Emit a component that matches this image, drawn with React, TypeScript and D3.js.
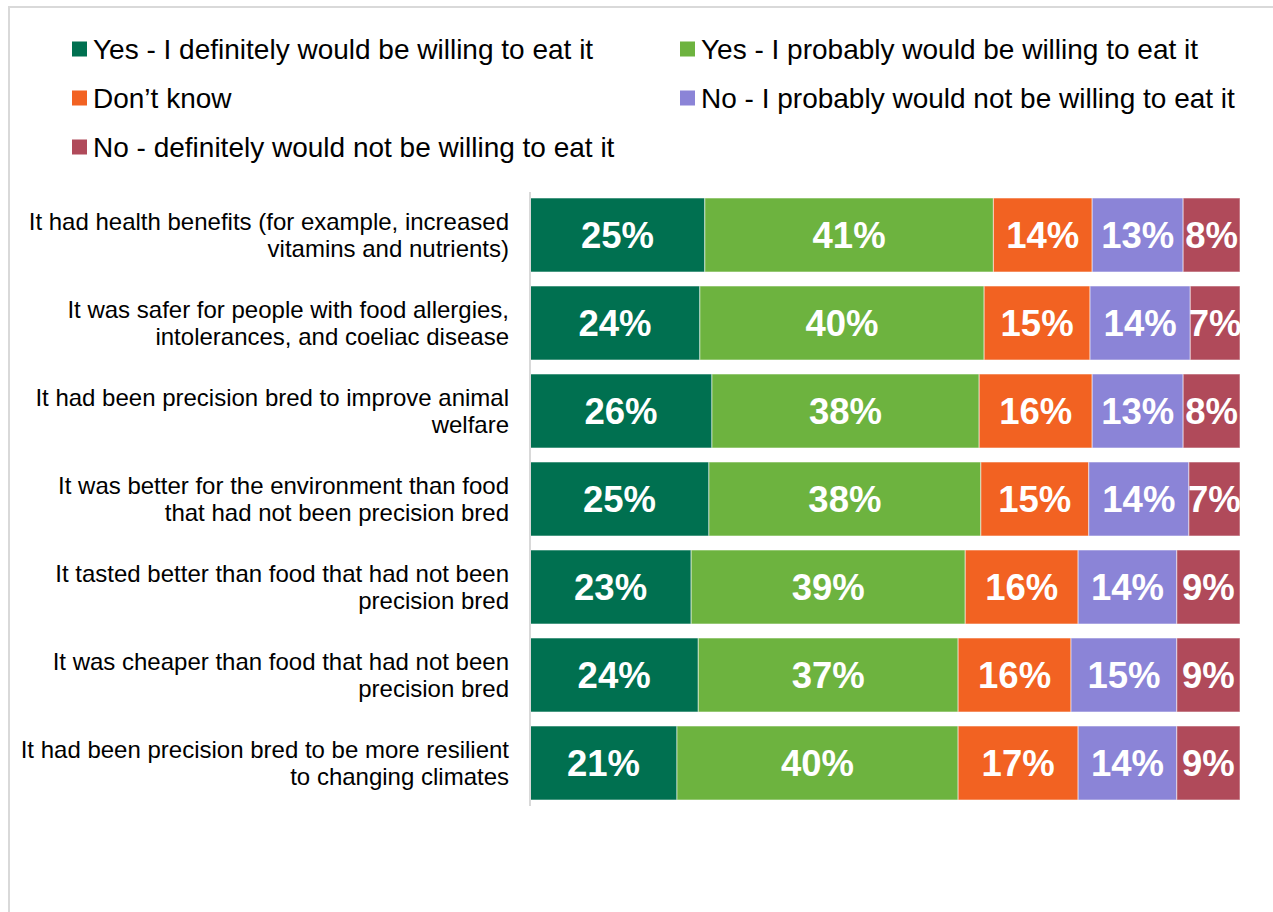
import React from "react";
import * as d3 from "d3";

const categories = [
  ["It had health benefits (for example, increased", "vitamins and nutrients)"],
  ["It was safer for people with food allergies,", "intolerances, and coeliac disease"],
  ["It had been precision bred to improve animal", "welfare"],
  ["It was better for the environment than food", "that had not been precision bred"],
  ["It tasted better than food that had not been", "precision bred"],
  ["It was cheaper than food that had not been", "precision bred"],
  ["It had been precision bred to be more resilient", "to changing climates"],
];

const seriesNames = [
  "Yes - I definitely would be willing to eat it",
  "Yes - I probably would be willing to eat it",
  "Don\u2019t know",
  "No - I probably would not be willing to eat it",
  "No - definitely would not be willing to eat it",
];

const definitelyYes = [24.6, 23.9, 25.6, 25.2, 22.7, 23.7, 20.7];
const probablyYes = [40.6, 40.0, 37.6, 38.3, 38.6, 36.6, 39.6];
const dontKnow = [13.9, 14.9, 15.9, 15.2, 15.9, 15.9, 16.9];
const probablyNo = [12.8, 14.1, 12.8, 14.1, 13.9, 14.9, 13.9];
const definitelyNo = [8.0, 7.0, 8.0, 7.2, 8.9, 8.9, 8.9];

const colors = ["#007050", "#6db33f", "#f26222", "#8b84d7", "#b04a5a"];

const seriesValues = [definitelyYes, probablyYes, dontKnow, probablyNo, definitelyNo];

export default function App() {
  const W = 1273;
  const H = 912;
  const x0 = 530;
  const x1 = 1240;

  const rows = categories.map((_, i) => {
    const o: Record<string, number> = { idx: i };
    seriesValues.forEach((s, k) => (o["s" + k] = s[i]));
    return o;
  });
  const keys = seriesValues.map((_, k) => "s" + k);
  const stacked = d3.stack<any>().keys(keys).offset(d3.stackOffsetExpand)(rows);

  const x = d3.scaleLinear().domain([0, 1]).range([x0, x1]);
  const y = d3
    .scaleBand<number>()
    .domain(categories.map((_, i) => i))
    .range([191, 807])
    .paddingInner(14 / 88)
    .paddingOuter(7 / 88);

  const font = "'Liberation Sans', Arial, sans-serif";

  const legendPos = [
    { x: 72, y: 49 },
    { x: 680, y: 49 },
    { x: 72, y: 98 },
    { x: 680, y: 98 },
    { x: 72, y: 147 },
  ];

  return (
    <svg
      width={W}
      height={H}
      style={{ position: "absolute", left: 0, top: 0, background: "#fff" }}
      fontFamily={font}
    >
      <rect x={9} y={7} width={W + 20} height={H + 20} fill="none" stroke="#d9d9d9" strokeWidth={2} />

      {seriesNames.map((name, k) => (
        <g key={name} transform={`translate(${legendPos[k].x},${legendPos[k].y})`}>
          <rect x={0} y={-7.5} width={15} height={15} fill={colors[k]} />
          <text x={21} y={0} dy="0.35em" fontSize={28} fill="#000">
            {name}
          </text>
        </g>
      ))}

      {stacked.map((layer, k) =>
        layer.map((d, i) => {
          const bx = x(d[0]);
          const bw = x(d[1]) - x(d[0]);
          const by = y(i) as number;
          const bh = y.bandwidth();
          return (
            <g key={`${k}-${i}`}>
              <rect
                x={bx}
                y={by}
                width={bw}
                height={bh}
                fill={colors[k]}
                stroke="#ffffff"
                strokeOpacity={0.55}
                strokeWidth={1}
              />
              <text
                x={bx + bw / 2}
                y={by + bh / 2}
                dy="0.36em"
                textAnchor="middle"
                fontSize={36.5}
                fontWeight="bold"
                fill="#fff"
              >
                {Math.round(seriesValues[k][i]) + "%"}
              </text>
            </g>
          );
        })
      )}

      <line x1={x0} x2={x0} y1={192} y2={806} stroke="#d9d9d9" strokeWidth={2} />

      {categories.map((lines, i) => {
        const cy = (y(i) as number) + y.bandwidth() / 2;
        return (
          <text key={i} textAnchor="end" fontSize={24} fill="#000">
            {lines.map((ln, j) => (
              <tspan key={j} x={509} y={cy + (j - (lines.length - 1) / 2) * 27.5} dy="0.35em">
                {ln}
              </tspan>
            ))}
          </text>
        );
      })}
    </svg>
  );
}
